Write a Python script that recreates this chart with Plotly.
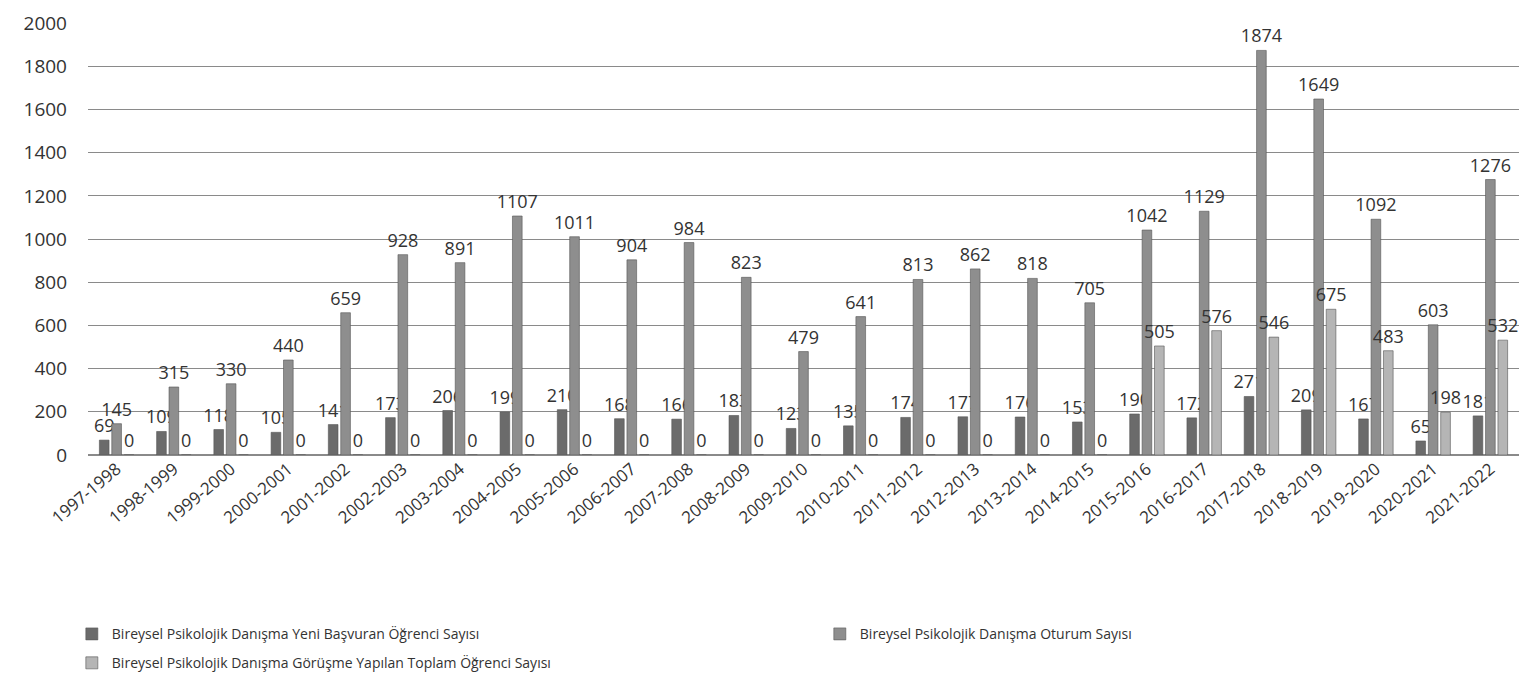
import plotly.graph_objects as go

years = ["1997-1998", "1998-1999", "1999-2000", "2000-2001", "2001-2002", "2002-2003",
         "2003-2004", "2004-2005", "2005-2006", "2006-2007", "2007-2008", "2008-2009",
         "2009-2010", "2010-2011", "2011-2012", "2012-2013", "2013-2014", "2014-2015",
         "2015-2016", "2016-2017", "2017-2018", "2018-2019", "2019-2020", "2020-2021",
         "2021-2022"]

yeni_basvuran = [69, 109, 118, 105, 141, 173, 206, 199, 210, 168, 166, 183, 123, 135,
                 174, 177, 176, 153, 190, 172, 271, 209, 167, 65, 181]
oturum = [145, 315, 330, 440, 659, 928, 891, 1107, 1011, 904, 984, 823, 479, 641,
          813, 862, 818, 705, 1042, 1129, 1874, 1649, 1092, 603, 1276]
toplam_ogrenci = [0, 0, 0, 0, 0, 0, 0, 0, 0, 0, 0, 0, 0, 0, 0, 0, 0, 0,
                  505, 576, 546, 675, 483, 198, 532]

names = ["Bireysel Psikolojik Danışma Yeni Başvuran Öğrenci Sayısı",
         "Bireysel Psikolojik Danışma Oturum Sayısı",
         "Bireysel Psikolojik Danışma Görüşme Yapılan Toplam Öğrenci Sayısı"]
colors = ["#6b6b6b", "#8e8e8e", "#b5b5b5"]
legend_ids = ["legend", "legend2", "legend3"]

fig = go.Figure()
for vals, name, col, lg in zip([yeni_basvuran, oturum, toplam_ogrenci], names, colors, legend_ids):
    fig.add_trace(go.Bar(
        x=years, y=vals, name=name, legend=lg,
        marker=dict(color=col, line=dict(color="#555555", width=0.6)),
        text=vals, textposition="outside", cliponaxis=False,
        constraintext="none",
        textfont=dict(size=18, color="#333333"),
    ))

# one legend per entry so each can sit where the reference puts it
legend_style = dict(
    orientation="h", xanchor="left", yanchor="top",
    font=dict(size=14, color="#333333"), itemwidth=30,
)

fig.update_layout(
    barmode="group",
    bargap=0.35,
    bargroupgap=0.22,
    width=1533, height=683,
    margin=dict(l=80, r=22, t=15, b=226),
    paper_bgcolor="white",
    plot_bgcolor="white",
    font=dict(family="Open Sans, Liberation Sans, sans-serif", color="#333333"),
    showlegend=True,
    legend=dict(legend_style, x=-0.0113, y=-0.378),
    legend2=dict(legend_style, x=0.5114, y=-0.378),
    legend3=dict(legend_style, x=-0.0113, y=-0.445),
)
fig.update_yaxes(range=[0, 2001], tickvals=list(range(0, 2001, 200)),
                 showgrid=True, gridcolor="#8a8a8a", automargin=False,
                 gridwidth=1, zeroline=True, zerolinecolor="#8a8a8a",
                 tickfont=dict(size=19), ticks="", ticklabelstandoff=20)
fig.update_xaxes(tickangle=-40, tickfont=dict(size=17), showline=False,
                 automargin=False)

fig.write_html("out.html")
